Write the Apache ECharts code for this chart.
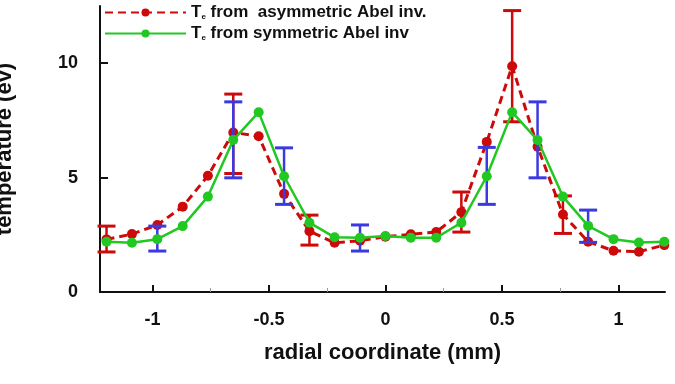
<!DOCTYPE html>
<html>
<head>
<meta charset="utf-8">
<script src="https://cdn.jsdelivr.net/npm/echarts@6/dist/echarts.min.js"></script>
<style>
  html, body { margin: 0; padding: 0; background: #fff; }
  #chart { width: 675px; height: 384px; }
</style>
</head>
<body>
<div id="chart"></div>
<script>
  // radial positions (mm)
  const radius = [-1.197, -1.088, -0.979, -0.870, -0.762, -0.653, -0.544, -0.435, -0.326, -0.218, -0.109, 0,
    0.109, 0.218, 0.326, 0.435, 0.544, 0.653, 0.762, 0.870, 0.979, 1.088, 1.197]
  // Te (ev)
  const asymTe = [2.3, 2.53, 2.93, 3.73, 5.08, 6.97, 6.81, 4.29, 2.66, 2.15, 2.24, 2.42,
    2.52, 2.62, 3.49, 6.56, 9.87, 6.35, 3.39, 2.2, 1.8, 1.76, 2.05]
  const symTe = [2.2, 2.15, 2.31, 2.88, 4.17, 6.64, 7.86, 5.06, 3.03, 2.39, 2.37, 2.45,
    2.37, 2.37, 3.03, 5.06, 7.86, 6.64, 4.17, 2.89, 2.31, 2.16, 2.2]
  // error bars: [x, low, high]
  const asymErr = [[-1.197, 1.75, 2.88], [-0.653, 5.18, 8.65], [-0.326, 2.05, 3.36],
    [0.326, 2.62, 4.37], [0.544, 7.44, 12.3], [0.762, 2.56, 4.2]]
  const symErr = [[-0.979, 1.79, 2.88], [-0.653, 4.99, 8.31], [-0.435, 3.83, 6.3], [-0.109, 1.79, 2.93],
    [0.435, 3.83, 6.32], [0.653, 4.99, 8.31], [0.870, 2.17, 3.58]]
  const xLabels = [-1, -0.5, 0, 0.5, 1]
  const xMinor = [-0.75, -0.25, 0.25, 0.75]
  const yLabels = [0, 5, 10]
  const names = ['Te from  asymmetric Abel inv.', 'Te from symmetric Abel inv']

  const red = '#cc0a0a'
  const green = '#22c822'
  const blue = '#3a3ae0'
  const font = 'Liberation Sans, Arial, sans-serif'

  function errRender (color) {
    return function (params, api) {
      let x = api.value(0)
      let lo = api.coord([x, api.value(1)])
      let hi = api.coord([x, api.value(2)])
      let w = 9
      let st = { stroke: color, lineWidth: 2.5 }
      return {
        type: 'group',
        children: [
          { type: 'line', shape: { x1: lo[0], y1: lo[1], x2: hi[0], y2: hi[1] }, style: st },
          { type: 'line', shape: { x1: hi[0] - w, y1: hi[1], x2: hi[0] + w, y2: hi[1] }, style: { stroke: color, lineWidth: 3 } },
          { type: 'line', shape: { x1: lo[0] - w, y1: lo[1], x2: lo[0] + w, y2: lo[1] }, style: { stroke: color, lineWidth: 3 } },
        ],
      }
    }
  }

  let myChart = echarts.init(document.getElementById('chart'), null, { renderer: 'canvas' })
  let option = {
    animation: false,
    textStyle: { fontFamily: font },
    grid: { left: 100, right: 10, top: 6, bottom: 92, containLabel: false, outerBoundsMode: 'none' },
    legend: {
      data: names,
      orient: 'vertical',
      left: 104,
      top: 4,
      padding: 0,
      itemWidth: 81,
      itemHeight: 10,
      itemGap: 4,
      formatter: name => '{t|T}{s|e}{t|' + name.slice(2) + '}',
      textStyle: {
        rich: {
          t: { fontSize: 17, fontWeight: 'bold', color: '#111', fontFamily: font },
          s: { fontSize: 8, fontWeight: 'bold', color: '#111', fontFamily: font, verticalAlign: 'bottom', padding: [8, 0, 0, 0] },
        },
      },
    },
    xAxis: [
      {
        type: 'value',
        min: -1.225,
        max: 1.2,
        name: 'radial coordinate (mm)',
        nameLocation: 'middle',
        nameGap: 50,
        nameTextStyle: { fontSize: 22, fontWeight: 'bold', color: '#111', fontFamily: font },
        axisLine: { onZero: false, lineStyle: { color: '#111', width: 2 } },
        axisTick: { inside: true, length: 7, customValues: xLabels, lineStyle: { color: '#111', width: 2 } },
        axisLabel: { customValues: xLabels, margin: 19, fontSize: 18, fontWeight: 'bold', color: '#111', fontFamily: font },
        splitLine: { show: false },
      },
      {
        type: 'value',
        min: -1.225,
        max: 1.2,
        position: 'bottom',
        axisLine: { show: false, onZero: false },
        axisTick: { inside: true, length: 4, customValues: xMinor, lineStyle: { color: '#999', width: 1 } },
        axisLabel: { show: false },
        splitLine: { show: false },
      },
    ],
    yAxis: {
      type: 'value',
      min: 0,
      max: 12.5,
      name: 'temperature (ev)',
      nameLocation: 'middle',
      nameGap: 84,
      nameTextStyle: { fontSize: 22, fontWeight: 'bold', color: '#111', fontFamily: font },
      axisLine: { show: true, onZero: false, lineStyle: { color: '#111', width: 2 } },
      axisTick: { show: true, inside: true, length: 8, customValues: yLabels, lineStyle: { color: '#111', width: 2 } },
      axisLabel: { customValues: yLabels, margin: 22, fontSize: 18, fontWeight: 'bold', color: '#111', fontFamily: font },
      splitLine: { show: false },
    },
    series: [
      {
        name: names[0],
        type: 'line',
        data: radius.map((x, i) => [x, asymTe[i]]),
        symbol: 'circle',
        symbolSize: 10,
        itemStyle: { color: red },
        lineStyle: { color: red, width: 3, type: [8, 5] },
        z: 2,
      },
      {
        type: 'custom',
        data: asymErr,
        renderItem: errRender(red),
        encode: { x: 0, y: [1, 2] },
        z: 3,
      },
      {
        type: 'custom',
        data: symErr,
        renderItem: errRender(blue),
        encode: { x: 0, y: [1, 2] },
        z: 4,
      },
      {
        name: names[1],
        type: 'line',
        data: radius.map((x, i) => [x, symTe[i]]),
        symbol: 'circle',
        symbolSize: 10,
        itemStyle: { color: green },
        lineStyle: { color: green, width: 2.5 },
        z: 5,
      },
    ],
  }
  myChart.setOption(option)
</script>
</body>
</html>
